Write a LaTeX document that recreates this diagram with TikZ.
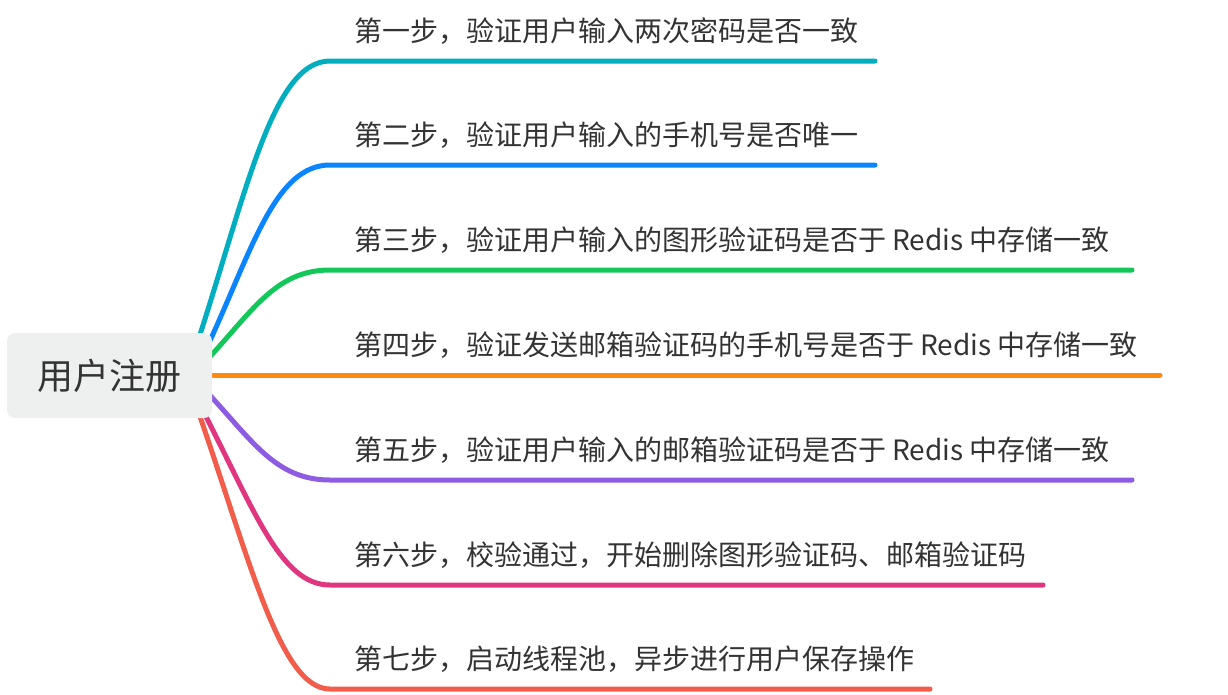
\documentclass[tikz,border=0pt]{standalone}
\usepackage{fontspec}
\setmainfont{Noto Sans CJK SC}
\usetikzlibrary{backgrounds}
\definecolor{cteal}{HTML}{00AEBF}
\definecolor{cblue}{HTML}{0A84FF}
\definecolor{cgreen}{HTML}{14C75A}
\definecolor{corange}{HTML}{FF8A10}
\definecolor{cpurple}{HTML}{8E5BE3}
\definecolor{cpink}{HTML}{E0367F}
\definecolor{cred}{HTML}{F25C4B}
\definecolor{rootfill}{HTML}{EEF0EF}
\definecolor{txt}{HTML}{333333}
\tikzset{
  rootbox/.style={fill=rootfill, rounded corners=8pt, minimum width=205pt, minimum height=85pt, inner sep=0pt, text=txt, font=\fontsize{36}{42}\selectfont},
  steptext/.style={anchor=base west, inner sep=0pt, text=txt, font=\fontsize{28}{34}\selectfont},
  branch/.style={line width=5pt, line cap=round},
}
\begin{document}
\begin{tikzpicture}[x=1pt,y=-1pt]
\useasboundingbox (0,0) rectangle (1228,694);
\node[rootbox] (root) at (109.5,375.5) {用户注册};
% start coordinates (under the root box)
\coordinate (s1) at (195,350);
\coordinate (s2) at (208,345);
\coordinate (s3) at (205,362);
\coordinate (s4) at (200,375);
\coordinate (s5) at (205,390);
\coordinate (s6) at (200,405);
\coordinate (s7) at (196,405);
% bend ends
\coordinate (k1) at (330,61);
\coordinate (k2) at (330,165);
\coordinate (k3) at (330,270);
\coordinate (k5) at (330,480);
\coordinate (k6) at (330,585);
\coordinate (k7) at (330,689);
% line ends
\coordinate (e1) at (875,61);
\coordinate (e2) at (875,165);
\coordinate (e3) at (1132,270);
\coordinate (e4) at (1160,375);
\coordinate (e5) at (1132,480);
\coordinate (e6) at (1043,585);
\coordinate (e7) at (930,689);
\begin{scope}[on background layer]
\draw[branch, cteal] (s1) .. controls (246,195) and (272,61) .. (k1) -- (e1);
\draw[branch, cblue] (s2) .. controls (252,250) and (275,165) .. (k2) -- (e2);
\draw[branch, cgreen] (s3) .. controls (252,312) and (275,270) .. (k3) -- (e3);
\draw[branch, corange] (s4) -- (e4);
\draw[branch, cpurple] (s5) .. controls (252,440) and (275,480) .. (k5) -- (e5);
\draw[branch, cpink] (s6) .. controls (254,509) and (280,585) .. (k6) -- (e6);
\draw[branch, cred] (s7) .. controls (250,560) and (280,689) .. (k7) -- (e7);
\end{scope}
\node[steptext] (t1) at (354,41) {第一步，验证用户输入两次密码是否一致};
\node[steptext] (t2) at (354,145) {第二步，验证用户输入的手机号是否唯一};
\node[steptext] (t3) at (354,250) {第三步，验证用户输入的图形验证码是否于 Redis 中存储一致};
\node[steptext] (t4) at (354,355) {第四步，验证发送邮箱验证码的手机号是否于 Redis 中存储一致};
\node[steptext] (t5) at (354,460) {第五步，验证用户输入的邮箱验证码是否于 Redis 中存储一致};
\node[steptext] (t6) at (354,565) {第六步，校验通过，开始删除图形验证码、邮箱验证码};
\node[steptext] (t7) at (354,669) {第七步，启动线程池，异步进行用户保存操作};
\end{tikzpicture}
\end{document}
